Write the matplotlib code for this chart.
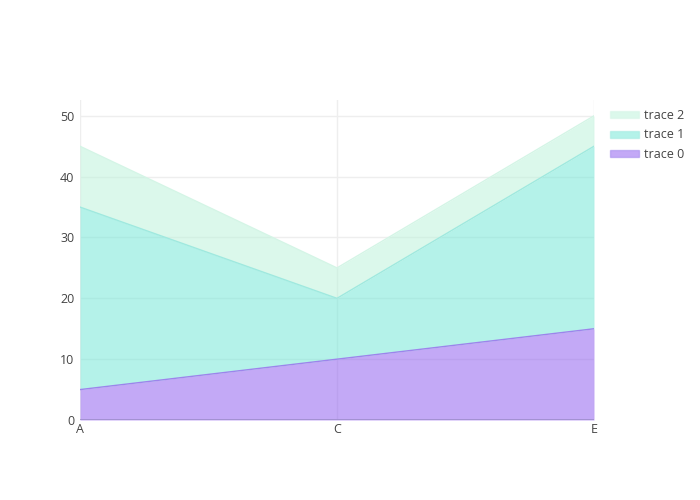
import matplotlib
matplotlib.use("Agg")
import matplotlib.pyplot as plt
from matplotlib.patches import Patch
import numpy as np

# chart data
categories = ["A", "C", "E"]
trace0 = [5, 10, 15]
trace1 = [30, 10, 30]
trace2 = [10, 5, 5]
names = ["trace 0", "trace 1", "trace 2"]

fill_colors = [(137/255, 85/255, 239/255), (107/255, 231/255, 213/255), (185/255, 243/255, 217/255)]
line_colors = ["#9d84ec", "#9fe9df", "#d4f5e6"]

plt.rcParams["font.family"] = ["Open Sans", "DejaVu Sans"]

fig = plt.figure(figsize=(7, 5), dpi=100)
ax = fig.add_axes([80/700, 80/500, 514/700, 320/500])

x = np.arange(len(categories))
stack = np.vstack([trace0, trace1, trace2])
tops = np.cumsum(stack, axis=0)
bottoms = np.vstack([np.zeros(len(categories)), tops[:-1]])

for i in range(3):
    ax.fill_between(x, bottoms[i], tops[i], color=fill_colors[i], alpha=0.5,
                    linewidth=0, zorder=2)
    ax.plot(x, tops[i], color=line_colors[i], linewidth=1, zorder=3)

ax.axhline(0, color="#9a8bc8", linewidth=1.8, zorder=4)

ax.set_xlim(0, 2)
ax.set_ylim(0, 52.6)
ax.set_xticks(x)
ax.set_xticklabels(categories)
ax.set_yticks([0, 10, 20, 30, 40, 50])
ax.grid(True, color="#eeeeee", linewidth=1, zorder=0)
ax.set_axisbelow(True)
for s in ax.spines.values():
    s.set_visible(False)
ax.tick_params(length=0, labelsize=9, labelcolor="#444444", pad=4)
ax.tick_params(axis="x", pad=2)

handles = [Patch(facecolor=fill_colors[i], alpha=0.5, edgecolor=line_colors[i], linewidth=1)
           for i in range(3)][::-1]
fig.legend(handles, names[::-1], loc="upper left", bbox_to_anchor=(599/700, 1 - 98/500),
           frameon=False, fontsize=9, labelcolor="#444444", handlelength=2.3,
           handleheight=0.5, labelspacing=0.5, handletextpad=0.4)

fig.savefig("out.png", dpi=100)
